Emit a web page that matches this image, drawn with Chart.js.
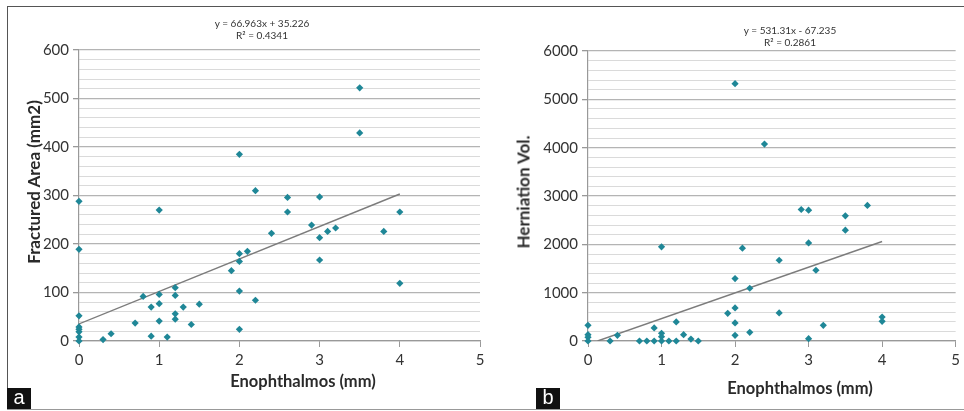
<!DOCTYPE html>
<html>
<head>
<meta charset="utf-8">
<script src="https://cdn.jsdelivr.net/npm/chart.js@4"></script>
<style>
  html, body { margin: 0; padding: 0; background: #fff; }
  #wrap { position: relative; width: 964px; height: 411px; overflow: hidden; font-family: Lato, "Open Sans", sans-serif; }
  canvas { position: absolute; top: 0; }
  #c1 { left: 0; }
  #c2 { left: 480px; }
  .frameTop { position: absolute; left: 7px; top: 6px; width: 957px; height: 0; border-top: 1.5px solid #555; }
  .frameLeft { position: absolute; left: 7px; top: 6px; width: 0; height: 403px; border-left: 1.5px solid #555; }
  .frameBottom { position: absolute; left: 7px; top: 409px; width: 957px; height: 0; border-top: 1.5px solid #999; }
  .tag { position: absolute; top: 388px; width: 24px; height: 21px; background: #111; color: #fff; font: 20px "Liberation Sans", Arial, sans-serif; line-height: 19px; text-align: center; }
  .eq { position: absolute; font-size: 10px; color: #333; text-align: center; line-height: 12px; transform: translateX(-50%); white-space: nowrap; }
  .xt { position: absolute; font-weight: bold; font-size: 16.5px; color: #2a2a2a; transform: translate(-50%, -50%); white-space: nowrap; }
  .yt { position: absolute; font-weight: bold; font-size: 17px; color: #2a2a2a; transform: translate(-50%, -50%) rotate(-90deg); white-space: nowrap; }
</style>
</head>
<body>
<div id="wrap">
  <canvas id="c1" width="500" height="411"></canvas>
  <canvas id="c2" width="484" height="411"></canvas>
  <div class="frameTop"></div>
  <div class="frameLeft"></div>
  <div class="frameBottom"></div>
  <div class="eq" style="left:262px; top:17px;">y = 66.963x + 35.226<br>R² = 0.4341</div>
  <div class="eq" style="left:790px; top:24px;">y = 531.31x - 67.235<br>R² = 0.2861</div>
  <div class="xt" style="left:303px; top:381px;">Enophthalmos (mm)</div>
  <div class="xt" style="left:800px; top:388px;">Enophthalmos (mm)</div>
  <div class="yt" style="left:33px; top:182px;">Fractured Area (mm2)</div>
  <div class="yt" style="left:523px; top:192px;">Herniation Vol.</div>
  <div class="tag" style="left:7px;">a</div>
  <div class="tag" style="left:536px;">b</div>
</div>
<script>
// panel a: enophthalmos vs fractured area
const fracX = [0, 0, 0, 0, 0, 0, 0, 0, 0.3, 0.4, 0.7, 0.8, 0.9, 0.9, 1, 1, 1, 1, 1.1, 1.2, 1.2, 1.2, 1.2,
               1.3, 1.4, 1.5, 1.9, 2, 2, 2, 2, 2, 2.1, 2.2, 2.2, 2.4, 2.6, 2.6, 2.9, 3, 3, 3, 3.1, 3.2,
               3.5, 3.5, 3.8, 4, 4];
const fracY = [288, 189, 52, 29, 24, 19, 8, 0, 3, 15, 37, 92, 70, 10, 270, 96, 77, 41, 8, 110, 94, 56, 45,
               70, 34, 76, 145, 385, 180, 164, 103, 24, 185, 310, 84, 222, 296, 266, 239, 297, 213, 167, 226, 233,
               522, 429, 226, 266, 119];
const fracTrendX = [0, 4];
const fracTrendY = [35.2, 303.1];

// panel b: enophthalmos vs herniation volume
const hernX = [0, 0, 0, 0, 0.3, 0.4, 0.7, 0.8, 0.9, 0.9, 1, 1, 1, 1, 1.1, 1.2, 1.2, 1.3, 1.4, 1.5, 1.9,
               2, 2, 2, 2, 2, 2.1, 2.2, 2.2, 2.4, 2.6, 2.6, 2.9, 3, 3, 3, 3.1, 3.2, 3.5, 3.5, 3.8, 4, 4];
const hernY = [325, 130, 80, 0, 0, 118, 0, 0, 270, 0, 1948, 160, 90, 0, 0, 394, 0, 130, 40, 0, 573,
               5325, 1291, 684, 373, 117, 1920, 1091, 180, 4075, 1671, 580, 2721, 2707, 2030, 48, 1464, 325,
               2590, 2293, 2804, 497, 407];
const hernTrendX = [0.13, 4];
const hernTrendY = [0, 2058];

const xTicks = [0, 1, 2, 3, 4, 5];

const toPts = (xs, ys) => xs.map((x, i) => ({ x, y: ys[i] }));

function makeChart(id, xs, ys, tx, ty, yMax, yMinor, yMajor, yWidth, pad) {
    new Chart(document.getElementById(id), {
        type: 'scatter',
        data: {
            datasets: [
                { data: toPts(xs, ys), pointStyle: 'rectRot', pointRadius: 3.6, pointHoverRadius: 3.6,
                  backgroundColor: '#1f8797', borderColor: '#1f8797', borderWidth: 0, clip: false },
                { type: 'line', data: toPts(tx, ty), borderColor: '#7c7c7c', borderWidth: 1.4,
                  pointRadius: 0, fill: false }
            ]
        },
        options: {
            responsive: false,
            animation: false,
            layout: { padding: pad },
            plugins: { legend: { display: false }, tooltip: { enabled: false } },
            scales: {
                x: {
                    type: 'linear', min: 0, max: 5,
                    afterBuildTicks: s => { s.ticks = xTicks.map(v => ({ value: v })); },
                    afterFit: s => { s.height = 70; },
                    grid: { drawOnChartArea: false, color: '#999', tickLength: 6 },
                    border: { color: '#999', width: 1.2 },
                    ticks: { color: '#333', font: { family: 'Lato', size: 15 }, padding: 4 }
                },
                y: {
                    min: 0, max: yMax,
                    afterFit: s => { s.width = yWidth; },
                    grid: {
                        color: c => c.tick && c.tick.value % yMajor === 0 ? '#b4b4b4' : '#dadada',
                        lineWidth: c => c.tick && c.tick.value % yMajor === 0 ? 1.3 : 1,
                        tickColor: c => c.tick && c.tick.value % yMajor === 0 ? '#999' : 'rgba(0,0,0,0)',
                        tickLength: 6
                    },
                    border: { color: '#999', width: 1.2 },
                    ticks: {
                        stepSize: yMinor, autoSkip: false, padding: 4,
                        color: '#333', font: { family: 'Lato', size: 15 },
                        callback: v => v % yMajor === 0 ? v : ''
                    }
                }
            }
        }
    });
}

makeChart('c1', fracX, fracY, fracTrendX, fracTrendY, 600, 20, 100, 79, { top: 50, right: 20, left: 0, bottom: 0 });
makeChart('c2', hernX, hernY, hernTrendX, hernTrendY, 6000, 200, 1000, 108, { top: 51, right: 5, left: 0, bottom: 0 });
</script>
</body>
</html>
